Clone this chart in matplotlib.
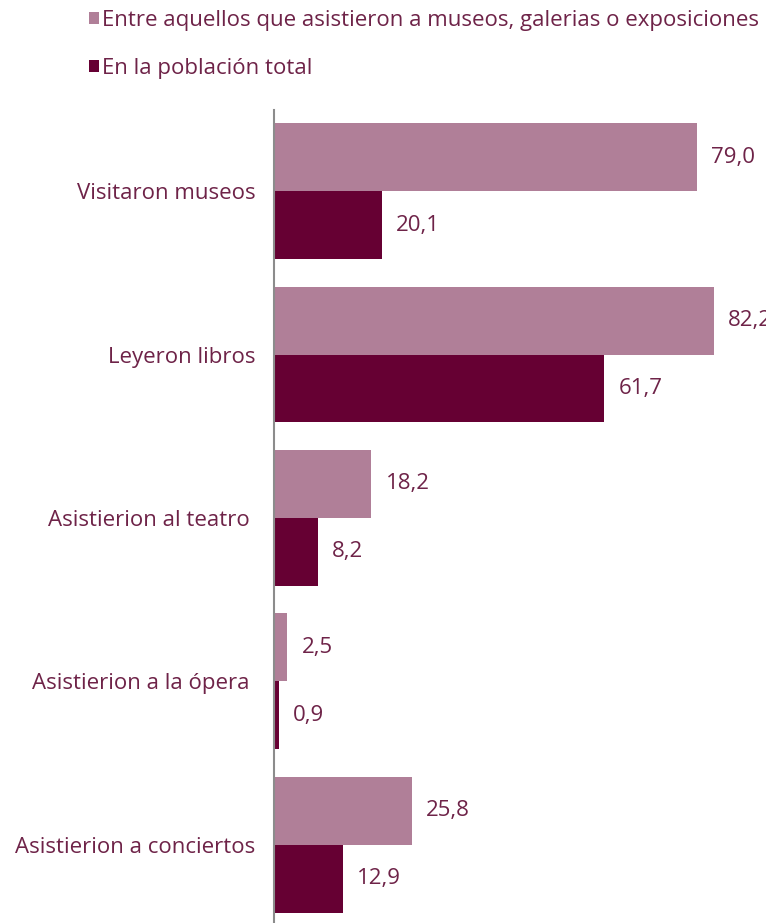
import numpy as np
import matplotlib.pyplot as plt

categorias = ["Visitaron museos", "Leyeron libros", "Asistierion al teatro ",
              "Asistierion a la ópera ", "Asistierion a conciertos"]
museos = [79.0, 82.2, 18.2, 2.5, 25.8]
total = [20.1, 61.7, 8.2, 0.9, 12.9]
series = ["Entre aquellos que asistieron a museos, galerias o exposiciones",
          "En la población total"]

c_claro = "#b07f98"
c_oscuro = "#660033"
c_texto = "#6e2348"

plt.rcParams['font.family'] = ['Open Sans', 'DejaVu Sans']

fig = plt.figure(figsize=(7.66, 9.23), dpi=100)
ax = fig.add_axes([274/766, 0, 482/766, 813/923])

y = np.arange(len(categorias))
h = 0.416
b1 = ax.barh(y - h/2, museos, height=h, color=c_claro, label=series[0])
b2 = ax.barh(y + h/2, total, height=h, color=c_oscuro, label=series[1])

for bars, vals in [(b1, museos), (b2, total)]:
    for b, v in zip(bars, vals):
        ax.annotate(f"{v:.1f}".replace(".", ","),
                    (b.get_width(), b.get_y() + b.get_height()/2),
                    xytext=(14, 0), textcoords="offset pixels",
                    va="center", ha="left", fontsize=16, color=c_texto,
                    annotation_clip=False)

ax.set_xlim(0, 90)
ax.set_ylim(4.48, -0.497)
ax.set_yticks(y)
ax.set_yticklabels(categorias, fontsize=16, color=c_texto)
ax.tick_params(axis="y", length=0, pad=13.5)
ax.set_xticks([])
for s in ["top", "right", "bottom"]:
    ax.spines[s].set_visible(False)
ax.spines["left"].set_color("#8c8c8c")
ax.spines["left"].set_linewidth(1.5)

leg = fig.legend(handles=[b1, b2], labels=series, loc="upper left",
                 bbox_to_anchor=(80/766, 1 - 1/923), frameon=False,
                 fontsize=16, labelcolor=c_texto, handlelength=0.45,
                 handleheight=0.45, handletextpad=0.15, labelspacing=1.2,
                 borderaxespad=0)

fig.savefig("out.png", dpi=100)
